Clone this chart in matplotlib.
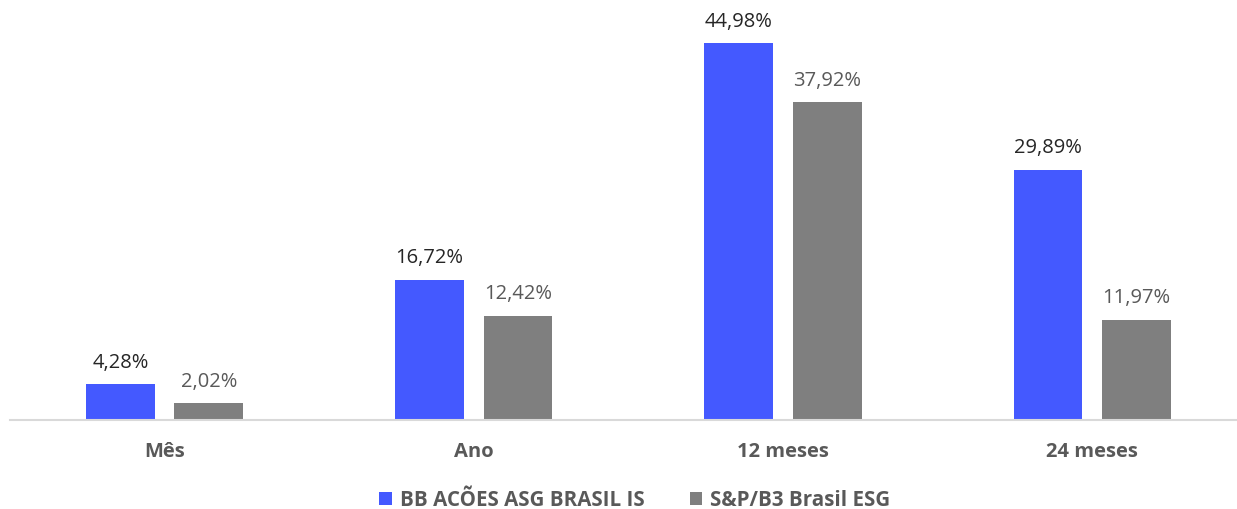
import matplotlib
matplotlib.use("Agg")
import matplotlib.pyplot as plt
import numpy as np

categories = ["Mês", "Ano", "12 meses", "24 meses"]
fundo = [4.28, 16.72, 44.98, 29.89]
indice = [2.02, 12.42, 37.92, 11.97]
series_names = ["BB ACÕES ASG BRASIL IS", "S&P/B3 Brasil ESG"]

BLUE = "#4459FF"; GREY = "#7F7F7F"
plt.rcParams["font.family"] = ["Open Sans", "DejaVu Sans"]

W, H = 1237, 510
fig = plt.figure(figsize=(W / 100, H / 100), dpi=100)
# axes in pixel terms: baseline at y=421, group spacing ~309 px
left, right = 10, 1237
base, top = 421, 2
ax = fig.add_axes([left / W, (H - base) / H, (right - left) / W, (base - top) / H])
step = 309.2
ax.set_xlim(-0.5, -0.5 + (right - left) / step)
ax.set_ylim(0, (base - top) / 8.38)

x = np.arange(len(categories))
w = 0.223; off = 0.143
b1 = ax.bar(x - off, fundo, w, color=BLUE, label=series_names[0])
b2 = ax.bar(x + off, indice, w, color=GREY, label=series_names[1])

def fmt(v):
    return f"{v:.2f}".replace(".", ",") + "%"

for rect, v in zip(b1, fundo):
    ax.annotate(fmt(v), (rect.get_x() + rect.get_width() / 2, v), textcoords="offset points",
                xytext=(0, 9), ha="center", va="bottom", fontsize=14.5, color="#262626")
for rect, v in zip(b2, indice):
    ax.annotate(fmt(v), (rect.get_x() + rect.get_width() / 2, v), textcoords="offset points",
                xytext=(0, 9), ha="center", va="bottom", fontsize=14.5, color="#595959")

for s in ["top", "right", "left"]:
    ax.spines[s].set_visible(False)
ax.spines["bottom"].set_color("#D9D9D9"); ax.spines["bottom"].set_linewidth(1.5)
ax.set_yticks([])
ax.set_xticks(x)
ax.set_xticklabels(categories, fontsize=14.5, fontweight="bold", color="#595959")
ax.tick_params(axis="x", length=0, pad=15)

leg = fig.legend(loc="center", bbox_to_anchor=(635 / W, (H - 501) / H), ncol=2, frameon=False,
                 fontsize=14.8, handlelength=0.6, handleheight=0.6, columnspacing=2.2, handletextpad=0.4)
for t in leg.get_texts():
    t.set_fontweight("bold"); t.set_color("#595959")

fig.savefig("out.png", dpi=100)
